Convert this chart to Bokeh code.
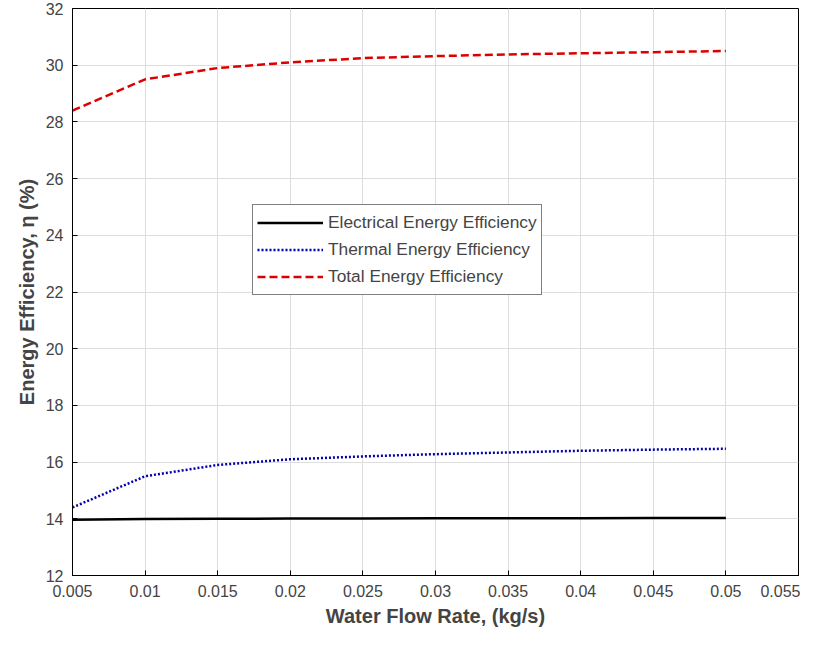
from bokeh.plotting import figure
from bokeh.models import Range1d, SingleIntervalTicker, Legend, LegendItem
from bokeh.embed import file_html
from bokeh.resources import INLINE

flow = [0.005, 0.01, 0.015, 0.02, 0.025, 0.03, 0.035, 0.04, 0.045, 0.05]
electrical = [13.97, 13.99, 14.0, 14.01, 14.01, 14.02, 14.02, 14.02, 14.03, 14.03]
thermal = [14.4, 15.5, 15.9, 16.1, 16.2, 16.28, 16.34, 16.4, 16.44, 16.47]
total = [28.4, 29.5, 29.9, 30.1, 30.25, 30.32, 30.38, 30.42, 30.46, 30.5]

p = figure(width=800, height=629, output_backend="svg", toolbar_location=None,
           x_range=Range1d(0.005, 0.055), y_range=Range1d(12, 32),
           min_border_left=72, min_border_right=2, min_border_top=8, min_border_bottom=54)
p.xaxis.ticker = SingleIntervalTicker(interval=0.005)
p.yaxis.ticker = SingleIntervalTicker(interval=2)
p.xaxis.axis_label = "Water Flow Rate, (kg/s)"
p.yaxis.axis_label = "Energy Efficiency, η (%)"
for ax in (p.xaxis, p.yaxis):
    ax.axis_label_text_font = "Liberation Sans"
    ax.axis_label_text_font_style = "bold"
    ax.axis_label_text_font_size = "15pt"
    ax.major_label_text_font = "Liberation Sans"
    ax.major_label_text_font_size = "12pt"
    ax.minor_tick_line_color = None
    ax.major_tick_in = 5
    ax.major_tick_out = 0
p.xaxis.formatter.use_scientific = False
p.grid.grid_line_color = "#dddddd"
p.outline_line_color = "black"
p.outline_line_width = 1

r1 = p.line(flow, electrical, line_color="black", line_width=2.5)
r2 = p.line(flow, thermal, line_color="#0000b0", line_width=2.5, line_dash="2 2")
r3 = p.line(flow, total, line_color="#dd0000", line_width=2.5, line_dash="8 4")

leg = Legend(items=[LegendItem(label="Electrical Energy Efficiency", renderers=[r1]),
                    LegendItem(label="Thermal Energy Efficiency", renderers=[r2]),
                    LegendItem(label="Total Energy Efficiency", renderers=[r3])],
             location=(180, 280), label_text_font="Liberation Sans",
             label_text_font_size="13pt", border_line_color="black",
             spacing=0, padding=4, label_height=27, glyph_height=27, glyph_width=66)
p.add_layout(leg, "center")

open("out.html", "w").write(file_html(p, INLINE))
